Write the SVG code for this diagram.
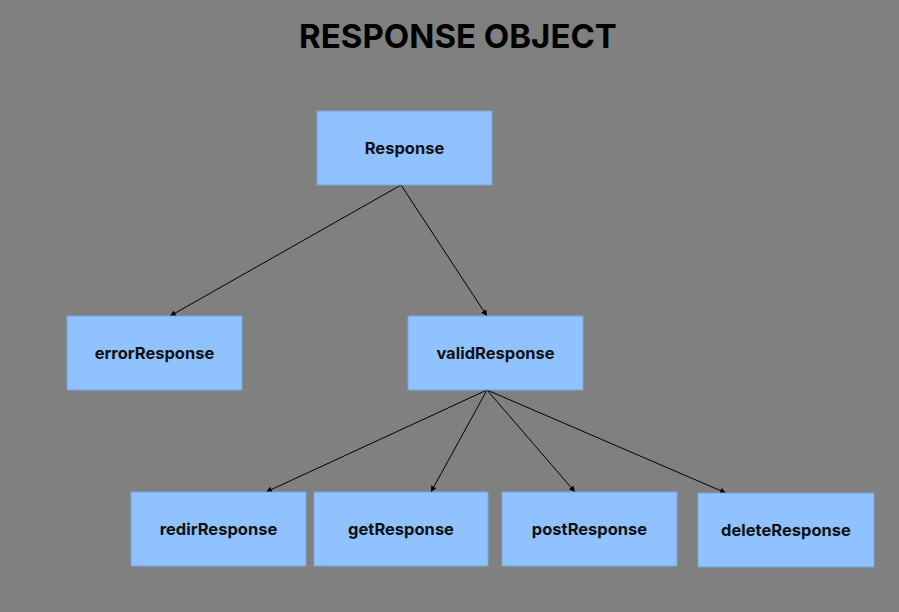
<svg xmlns="http://www.w3.org/2000/svg" width="899" height="612" viewBox="0 0 899 612">
<style>
.box{fill:#90c2ff;stroke:#7aa6d6;stroke-width:1}
.lbl{font-family:Inter,"Liberation Sans",sans-serif;font-weight:700;font-size:16.5px;fill:#111;text-anchor:middle;dominant-baseline:central}
.title{font-family:Inter,"Liberation Sans",sans-serif;font-weight:700;font-size:33px;fill:#000;text-anchor:middle}
.edge{stroke:#000;stroke-width:1;fill:none;marker-end:url(#ah)}
</style>
<defs>
<marker id="ah" viewBox="0 0 10 10" refX="10" refY="5" markerWidth="6" markerHeight="6" orient="auto" markerUnits="userSpaceOnUse">
<path d="M0,0 L10,5 L0,10 z" fill="#000"/>
</marker>
</defs>
<rect width="899" height="612" fill="#808080"/>
<text class="title" x="458" y="48">RESPONSE OBJECT</text>
<g id="connectors">
<line class="edge" x1="401" y1="185" x2="170" y2="316"/>
<line class="edge" x1="401" y1="185" x2="487" y2="316"/>
<line class="edge" x1="487" y1="390" x2="266" y2="492"/>
<line class="edge" x1="487" y1="390" x2="431" y2="492"/>
<line class="edge" x1="487" y1="390" x2="575" y2="492"/>
<line class="edge" x1="487" y1="390" x2="726" y2="493"/>
</g>
<g id="response"><rect class="box" x="317" y="111" width="175" height="74"/><text class="lbl" x="404.5" y="148">Response</text></g>
<g id="errorResponse"><rect class="box" x="67" y="316" width="175" height="74"/><text class="lbl" x="154.5" y="353">errorResponse</text></g>
<g id="validResponse"><rect class="box" x="408" y="316" width="175" height="74"/><text class="lbl" x="495.5" y="353">validResponse</text></g>
<g id="redirResponse"><rect class="box" x="131" y="492" width="175" height="74"/><text class="lbl" x="218.5" y="529">redirResponse</text></g>
<g id="getResponse"><rect class="box" x="314" y="492" width="174" height="74"/><text class="lbl" x="401" y="529">getResponse</text></g>
<g id="postResponse"><rect class="box" x="502" y="492" width="175" height="74"/><text class="lbl" x="589.5" y="529">postResponse</text></g>
<g id="deleteResponse"><rect class="box" x="698" y="493" width="176" height="74"/><text class="lbl" x="786" y="530">deleteResponse</text></g>
</svg>
